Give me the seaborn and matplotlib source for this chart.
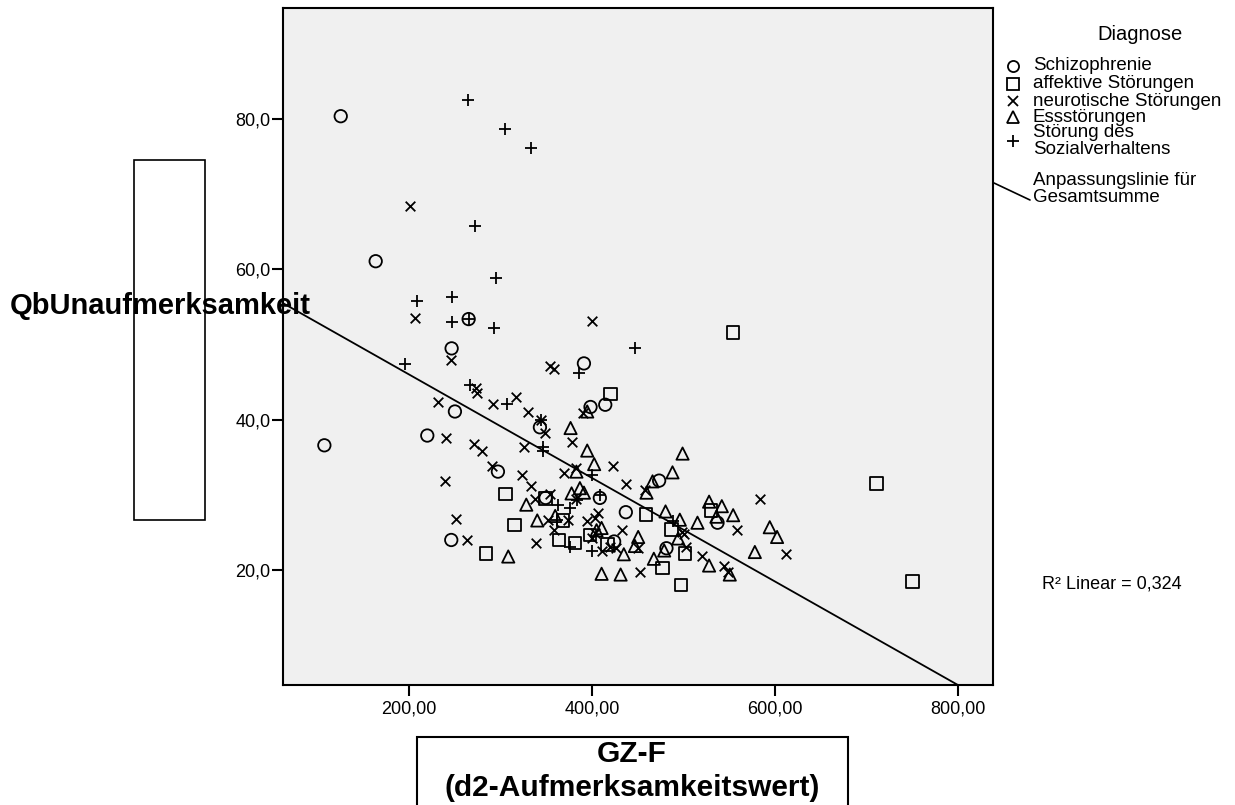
import numpy as np
import pandas as pd
import matplotlib
matplotlib.use("Agg")
import matplotlib.pyplot as plt
import seaborn as sns
from matplotlib.lines import Line2D
from matplotlib.patches import Rectangle

# ---------------- data ----------------
categories = ["Schizophrenie", "affektive Störungen", "neurotische Störungen",
              "Essstörungen", "Störung des\nSozialverhaltens"]

schizo_x = [125.4, 163.6, 265.2, 246.6, 107.5, 250.2, 220.0, 297.2, 246.2, 391.2,
            414.5, 398.4, 343.1, 473.4, 349.3, 408.6, 437.0, 537.2, 424.2, 481.4]
schizo_y = [80.4, 61.1, 53.4, 49.5, 36.6, 41.1, 37.9, 33.1, 24.0, 47.5,
            42.0, 41.7, 39.0, 31.9, 29.6, 29.6, 27.7, 26.3, 23.8, 22.9]

affekt_x = [305.6, 315.5, 284.4, 554.3, 420.3, 349.3, 458.9, 486.9, 501.5, 529.9,
            368.5, 364.1, 381.6, 397.7, 416.9, 477.1, 497.1, 710.8, 750.2]
affekt_y = [30.1, 26.0, 22.2, 51.6, 43.4, 29.5, 27.4, 25.4, 22.2, 27.9,
            26.6, 24.0, 23.6, 24.7, 23.4, 20.3, 18.0, 31.5, 18.5]

neuro_x = [200.8, 206.6, 245.5, 232.0, 240.0, 273.5, 274.5, 291.8, 317.2, 330.0,
           270.7, 279.4, 290.3, 239.3, 323.4, 333.6, 251.3, 263.4, 338.4, 399.6,
           354.0, 358.4, 390.4, 344.2, 348.6, 378.4, 326.0, 422.5, 382.4, 369.3,
           437.0, 457.8, 337.6, 354.0, 382.4, 406.8, 403.2, 497.9, 500.8, 503.3,
           559.0, 520.3, 544.4, 548.8, 352.2, 358.4, 374.0, 394.8, 399.6, 403.2,
           419.5, 426.8, 410.5, 450.5, 433.3, 452.3, 584.1, 611.8]
neuro_y = [68.5, 53.6, 47.9, 42.3, 37.6, 44.2, 43.6, 42.1, 43.0, 41.0,
           36.8, 35.8, 33.9, 31.8, 32.7, 31.2, 26.8, 24.0, 23.6, 53.2,
           47.2, 46.8, 40.9, 40.0, 38.3, 37.1, 36.4, 33.9, 33.6, 32.9,
           31.5, 30.6, 29.4, 30.1, 29.4, 27.6, 26.9, 25.1, 24.8, 23.1,
           25.3, 21.9, 20.5, 19.8, 26.6, 25.3, 26.6, 26.5, 24.2, 24.9,
           23.1, 22.9, 22.5, 22.9, 25.3, 19.7, 29.4, 22.2]

ess_x = [328.2, 308.5, 394.8, 376.6, 394.8, 499.0, 402.4, 383.0, 488.0, 466.2,
         459.6, 377.7, 386.8, 391.2, 480.4, 496.0, 515.3, 494.2, 528.0, 541.9,
         536.0, 554.3, 528.0, 550.6, 340.2, 359.8, 405.0, 410.5, 434.8, 450.5,
         446.9, 478.9, 467.6, 410.5, 431.3, 594.3, 602.3, 578.0]
ess_y = [28.7, 21.8, 41.1, 38.9, 35.9, 35.5, 34.1, 33.1, 33.0, 31.8,
         30.3, 30.2, 30.9, 30.3, 27.8, 26.7, 26.3, 24.2, 29.1, 28.5,
         27.1, 27.3, 20.6, 19.4, 26.6, 27.2, 25.3, 25.6, 22.1, 24.4,
         23.2, 22.6, 21.5, 19.5, 19.4, 25.7, 24.4, 22.4]

sozial_x = [264.4, 304.5, 333.0, 272.4, 294.7, 208.7, 246.6, 246.6, 265.2, 292.5,
            195.6, 266.3, 307.0, 446.9, 386.0, 344.2, 346.7, 346.0, 399.6, 383.2,
            408.6, 363.1, 375.9, 488.7, 361.3, 375.9, 399.6]
sozial_y = [82.5, 78.7, 76.2, 65.8, 58.9, 55.8, 56.4, 53.0, 53.4, 52.2,
            47.4, 44.6, 42.1, 49.5, 46.2, 40.0, 36.4, 35.8, 32.7, 29.3,
            30.0, 28.6, 28.2, 26.5, 26.7, 23.1, 22.6]

# fitted line for the total sample (as reported by the original chart)
fit_intercept = 59.81
fit_slope = -0.06889

x_ticks = [200, 400, 600, 800]
x_ticklabels = ["200,00", "400,00", "600,00", "800,00"]
y_ticks = [20, 40, 60, 80]
y_ticklabels = ["20,0", "40,0", "60,0", "80,0"]

r2_text = "R² Linear = 0,324"

# ---------------- build frame ----------------
xs = [schizo_x, affekt_x, neuro_x, ess_x, sozial_x]
ys = [schizo_y, affekt_y, neuro_y, ess_y, sozial_y]
frames = []
for cat, xx, yy in zip(categories, xs, ys):
    frames.append(pd.DataFrame({"d2": xx, "qb": yy, "diagnose": cat}))
df = pd.concat(frames, ignore_index=True)

# ---------------- style ----------------
sns.set_style("white")
plt.rcParams["font.family"] = ["Liberation Sans", "DejaVu Sans"]
plt.rcParams["text.color"] = "black"
plt.rcParams["axes.labelcolor"] = "black"
plt.rcParams["xtick.color"] = "black"
plt.rcParams["ytick.color"] = "black"

W, H = 1235, 805
fig = plt.figure(figsize=(W / 100, H / 100), dpi=100)

def fx(px):
    return px / W

def fy(py):
    return 1 - py / H

ax = fig.add_axes([fx(283), fy(685), fx(993) - fx(283), fy(8) - fy(685)])
ax.set_facecolor("#F0F0F0")

xlim = (62.3, 838.3)
ylim = (4.7, 94.8)
ax.set_xlim(*xlim)
ax.set_ylim(*ylim)

markers = ["o", "s", "x", "^", "+"]
sizes = [80, 80, 48, 78, 78]
lw = 1.3
for cat, m, s in zip(categories, markers, sizes):
    sub = df[df["diagnose"] == cat]
    if m in ("x", "+"):
        sns.scatterplot(data=sub, x="d2", y="qb", marker=m, color="black",
                        s=s, linewidth=lw, ax=ax, legend=False, zorder=3)
    else:
        sns.scatterplot(data=sub, x="d2", y="qb", marker=m, facecolor="none",
                        edgecolor="black", s=s, linewidth=lw, ax=ax,
                        legend=False, zorder=3)

ax.axline((0, fit_intercept), slope=fit_slope, color="black", lw=1.3, zorder=2)

ax.set_xlim(*xlim)
ax.set_ylim(*ylim)
ax.set_xticks(x_ticks)
ax.set_xticklabels(x_ticklabels)
ax.set_yticks(y_ticks)
ax.set_yticklabels(y_ticklabels)
ax.set_xlabel("")
ax.set_ylabel("")
ax.tick_params(axis="both", direction="out", length=8, width=1.5,
               color="black", labelsize=13, labelcolor="black")
ax.tick_params(axis="y", pad=1)
ax.tick_params(axis="x", pad=3)
ax.tick_params(left=True, bottom=True)
for sp in ax.spines.values():
    sp.set_visible(True)
    sp.set_color("black")
    sp.set_linewidth(1.5)

# ---------------- axis titles with boxes ----------------
fig.patches.append(Rectangle((fx(134), fy(520)), fx(205) - fx(134), fy(160) - fy(520),
                             transform=fig.transFigure, fill=False,
                             edgecolor="black", lw=1.2))
fig.text(fx(10), fy(306), "QbUnaufmerksamkeit", ha="left", va="center",
         fontsize=21, fontweight="bold", color="black")

fig.patches.append(Rectangle((fx(417), fy(820)), fx(848) - fx(417), fy(737) - fy(820),
                             transform=fig.transFigure, fill=False,
                             edgecolor="black", lw=1.5))
fig.text(fx(632), fy(754), "GZ-F", ha="center", va="center",
         fontsize=21.5, fontweight="bold", color="black")
fig.text(fx(632), fy(788), "(d2-Aufmerksamkeitswert)", ha="center", va="center",
         fontsize=21.5, fontweight="bold", color="black")

# ---------------- legend (manual, SPSS style) ----------------
fig.text(fx(1140), fy(34), "Diagnose", ha="center", va="center", fontsize=14.5)
leg_y = [66, 84, 101, 117, 141]
leg_ms = [8.0, 8.5, 6.5, 8.0, 8.5]
for cat, m, ms, yy in zip(categories, markers, leg_ms, leg_y):
    fig.add_artist(Line2D([fx(1013)], [fy(yy)], marker=m, markersize=ms,
                          markerfacecolor="none", markeredgecolor="black",
                          markeredgewidth=1.3, linestyle="none",
                          transform=fig.transFigure))
    fig.text(fx(1033), fy(yy), cat, ha="left", va="center", fontsize=13.5,
             linespacing=0.95)
fig.add_artist(Line2D([fx(994), fx(1030)], [fy(183), fy(200)], color="black",
                      lw=1.2, transform=fig.transFigure))
fig.text(fx(1033), fy(189), "Anpassungslinie für\nGesamtsumme", ha="left",
         va="center", fontsize=13.5, linespacing=0.95)

fig.text(fx(1042), fy(584), r2_text, ha="left", va="center", fontsize=13)

fig.savefig("out.png", dpi=100)
